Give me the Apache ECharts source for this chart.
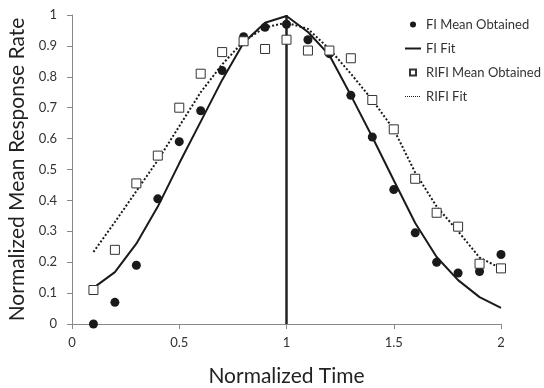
<!DOCTYPE html>
<html><head><meta charset="utf-8">
<script src="https://cdn.jsdelivr.net/npm/echarts@6/dist/echarts.min.js"></script>
<style>html,body{margin:0;padding:0;background:#fff}#c{width:544px;height:388px}</style>
</head><body><div id="c"></div>
<script>
var times = [0.1,0.2,0.3,0.4,0.5,0.6,0.7,0.8,0.9,1.0,1.1,1.2,1.3,1.4,1.5,1.6,1.7,1.8,1.9,2.0];
var fiMean = [0,0.07,0.19,0.405,0.59,0.69,0.82,0.93,0.96,0.97,0.92,0.875,0.74,0.605,0.435,0.295,0.2,0.165,0.17,0.225];
var fiFit = [0.117,0.168,0.26,0.38,0.52,0.655,0.79,0.91,0.975,0.997,0.945,0.87,0.74,0.605,0.465,0.327,0.217,0.142,0.087,0.052];
var rifiMean = [0.11,0.24,0.455,0.545,0.70,0.81,0.88,0.915,0.89,0.92,0.885,0.885,0.86,0.725,0.63,0.47,0.36,0.315,0.195,0.18];
var rifiFit = [0.233,0.33,0.43,0.53,0.64,0.75,0.84,0.915,0.96,0.975,0.955,0.89,0.81,0.725,0.63,0.49,0.38,0.3,0.215,0.18];
var refLineX = [1,1];
var refLineY = [0,1];
function pairs(xs, ys){ return xs.map(function(x,i){return [x, ys[i]];}); }
var font = 'Lato, "Open Sans", sans-serif';
var chart = echarts.init(document.getElementById('c'), null, {renderer:'canvas'});
chart.setOption({
  animation:false,
  textStyle:{fontFamily:font},
  grid:{left:72, right:43, top:15, bottom:64, containLabel:false, outerBoundsMode:'none'},
  legend:{
    orient:'vertical', left:399, top:13, itemGap:11, itemWidth:16, itemHeight:6,
    textStyle:{fontFamily:font, fontSize:13, color:'#333'},
    data:[
      {name:'FI Mean Obtained', icon:'circle'},
      {name:'FI Fit', itemStyle:{opacity:0}},
      {name:'RIFI Mean Obtained', icon:'path://M0,0h10v10h-10z'},
      {name:'RIFI Fit', itemStyle:{opacity:0}, lineStyle:{width:1, type:[1,1]}}
    ]
  },
  xAxis:{
    type:'value', min:0, max:2, interval:0.5,
    name:'Normalized Time', nameLocation:'middle', nameGap:42,
    nameTextStyle:{fontFamily:font, fontSize:21, color:'#222'},
    axisLine:{show:true, onZero:false, lineStyle:{color:'#888', width:1}},
    axisTick:{show:true, length:5, lineStyle:{color:'#888'}},
    axisLabel:{fontFamily:font, fontSize:13, color:'#333', margin:12},
    splitLine:{show:false}
  },
  yAxis:{
    type:'value', min:0, max:1, interval:0.1,
    name:'Normalized Mean Response Rate', nameLocation:'middle', nameGap:43,
    nameTextStyle:{fontFamily:font, fontSize:21, color:'#222'},
    axisLine:{show:true, lineStyle:{color:'#888', width:1}},
    axisTick:{show:true, length:5, lineStyle:{color:'#888'}},
    axisLabel:{fontFamily:font, fontSize:13, color:'#333', margin:15,
      formatter:function(v){return Math.round(v*10)/10 + '';}},
    splitLine:{show:false}
  },
  series:[
    {name:'ref', type:'line', data:pairs(refLineX, refLineY), symbol:'none',
     lineStyle:{color:'#222', width:2.5}, silent:true, z:1},
    {name:'FI Fit', type:'line', data:pairs(times, fiFit), symbol:'none',
     lineStyle:{color:'#1a1a1a', width:2}, itemStyle:{color:'#1a1a1a'}, z:2},
    {name:'RIFI Fit', type:'line', data:pairs(times, rifiFit), symbol:'none',
     lineStyle:{color:'#1a1a1a', width:2, type:[2,2]}, itemStyle:{color:'#1a1a1a'}, z:2},
    {name:'FI Mean Obtained', type:'scatter', data:pairs(times, fiMean), symbol:'circle', symbolSize:9,
     itemStyle:{color:'#1a1a1a', opacity:1}, z:3},
    {name:'RIFI Mean Obtained', type:'scatter', data:pairs(times, rifiMean), symbol:'rect', symbolSize:9,
     itemStyle:{color:'#fff', borderColor:'#333', borderWidth:1, opacity:1}, z:4}
  ]
});
</script>
</body></html>
